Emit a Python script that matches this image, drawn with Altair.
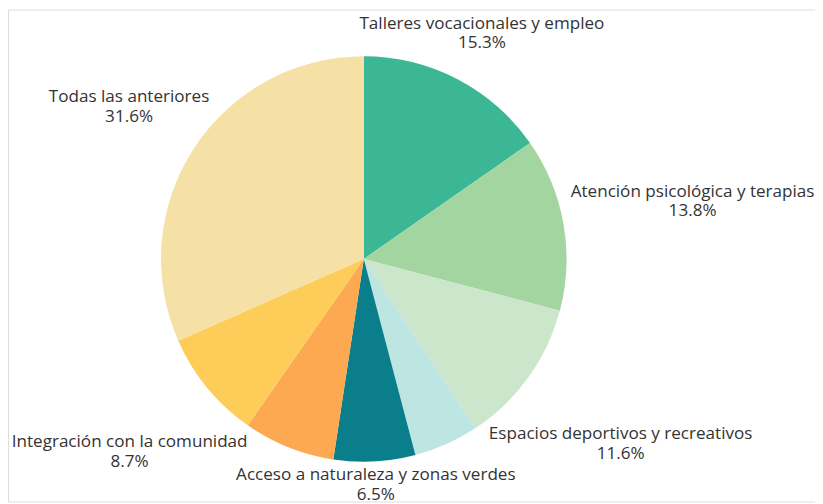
import altair as alt
import pandas as pd

# ---- data ----
categories = [
    "Talleres vocacionales y empleo",
    "Atención psicológica y terapias",
    "Espacios deportivos y recreativos",
    "Otro (sin etiqueta 1)",
    "Acceso a naturaleza y zonas verdes",
    "Otro (sin etiqueta 2)",
    "Integración con la comunidad",
    "Todas las anteriores",
]
values = [15.3, 13.8, 11.6, 5.2, 6.5, 7.3, 8.7, 31.6]
show_label = [True, True, True, False, True, False, True, True]

# ---- styling ----
colors = ["#3bb796", "#a3d5a0", "#cbe6ca", "#bde6e2",
          "#0a7e8a", "#fda951", "#fecd59", "#f5e1a6"]
label_radius = [257, 336, 318, 0, 227, 0, 305, 282]
PIE_R = 204
CX, CY = 358, 251
FONT = "Open Sans"

df = pd.DataFrame({
    "category": categories,
    "value": values,
    "idx": list(range(len(categories))),
    "label": [f"{c}\n{v:.1f}%" if s else "" for c, v, s in zip(categories, values, show_label)],
    "lr": label_radius,
})

color_scale = alt.Scale(domain=categories, range=colors)

pie = alt.Chart(df).mark_arc(outerRadius=PIE_R).encode(
    theta=alt.Theta("value:Q", stack=True),
    order=alt.Order("idx:Q"),
    color=alt.Color("category:N", scale=color_scale, legend=None, sort=None),
    x=alt.value(CX),
    y=alt.value(CY),
)

labels = alt.Chart(df).transform_joinaggregate(
    total="sum(value)"
).transform_window(
    cum="sum(value)", sort=[alt.SortField("idx")], frame=[None, 0]
).transform_calculate(
    tm="2 * PI * (datum.cum - datum.value / 2) / datum.total"
).transform_filter(
    "datum.label != ''"
).mark_text(
    font=FONT, fontSize=17.2, color="#333333", lineBreak="\n",
    lineHeight=20, align="center", baseline="middle", dy=-9,
).encode(
    theta=alt.Theta("tm:Q", scale=None, stack=None),
    radius=alt.Radius("lr:Q", scale=None),
    text="label:N",
    x=alt.value(CX),
    y=alt.value(CY),
)

chart = (pie + labels).properties(
    width=812, height=495, autosize=alt.AutoSizeParams(type="none"), padding=0,
).configure_view(stroke="transparent", strokeWidth=0).configure(background="white")

chart.save("out.html", embed_options={"renderer": "svg", "actions": False})
